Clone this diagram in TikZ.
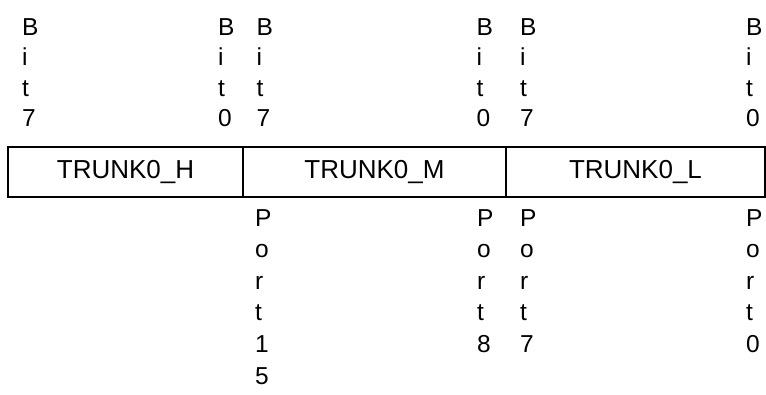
\documentclass[tikz,border=0pt]{standalone}
\usepackage{fontspec}
\setmainfont{Liberation Sans}
\begin{document}
\begin{tikzpicture}[x=1pt,y=-1pt,
  cell/.style={draw=black,line width=2pt,rectangle,inner sep=0pt,minimum height=50pt,font=\fontsize{26}{30}\selectfont},
  bitlbl/.style={inner sep=0pt,anchor=north west,align=left,font=\fontsize{24.5}{30.5}\selectfont},
  portlbl/.style={inner sep=0pt,anchor=north west,align=left,font=\fontsize{24.5}{31.6}\selectfont}]
\useasboundingbox (0,0) rectangle (766,395);
\node[cell,minimum width=235pt] (h) at (125.5,172) {TRUNK0\_H};
\node[cell,minimum width=263pt] (m) at (374.5,172) {TRUNK0\_M};
\node[cell,minimum width=259pt] (l) at (635.5,172) {TRUNK0\_L};
% bit labels
\node[bitlbl] (hb7) at (22,18.3) {B\\i\\t\\7};
\node[bitlbl] (hb0) at (218,18.3) {B\\i\\t\\0};
\node[bitlbl] (mb7) at (256.5,18.3) {B\\i\\t\\7};
\node[bitlbl] (mb0) at (476.5,18.3) {B\\i\\t\\0};
\node[bitlbl] (lb7) at (520,18.3) {B\\i\\t\\7};
\node[bitlbl] (lb0) at (746,18.3) {B\\i\\t\\0};
% port labels
\node[portlbl] (mp15) at (255,209) {P\\o\\r\\t\\1\\5};
\node[portlbl] (mp8) at (477,209) {P\\o\\r\\t\\8};
\node[portlbl] (lp7) at (520,209) {P\\o\\r\\t\\7};
\node[portlbl] (lp0) at (746,209) {P\\o\\r\\t\\0};
\end{tikzpicture}
\end{document}
